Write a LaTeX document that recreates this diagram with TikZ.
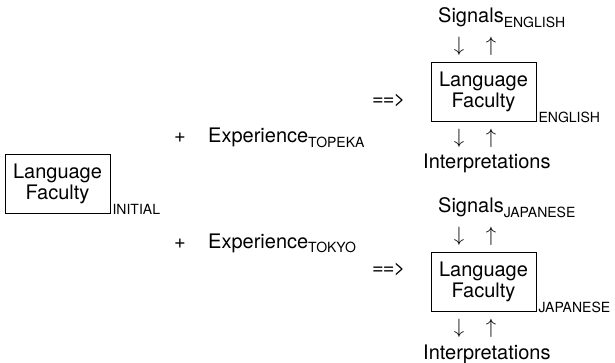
\documentclass[tikz,border=0pt]{standalone}
\usepackage{fontspec}
\setmainfont{TeX Gyre Heros}
\begin{document}
\begin{tikzpicture}[x=1pt,y=-1pt,
  fbox/.style={draw, line width=0.8pt, minimum width=105pt, minimum height=59pt,
    inner sep=0pt, align=center, font=\fontsize{20}{21}\selectfont},
  lbl/.style={inner sep=0pt, anchor=base west, font=\fontsize{20}{24}\selectfont},
  subl/.style={inner sep=0pt, anchor=base west, font=\fontsize{14}{16}\selectfont},
  arr/.style={inner sep=0pt, font=\fontsize{22}{24}\selectfont}]
\useasboundingbox (0,0) rectangle (615,363);
\newcommand{\sbs}[1]{\raisebox{-4.5pt}{\fontsize{14}{16}\selectfont #1}}
% initial
\node[fbox] (init) at (57.5,183.5) {Language\\Faculty};
\node[subl] (initsub) at ([xshift=2pt,yshift=-1pt]init.south east) {INITIAL};
% experiences
\node[lbl] (plus1) at (174,143) {+};
\node[lbl] (exp1) at (208,143) {Experience\sbs{TOPEKA}};
\node[lbl] (plus2) at (174,248) {+};
\node[lbl] (exp2) at (208,248) {Experience\sbs{TOKYO}};
% results
\node[lbl] (to1) at (372,106) {=\kern-1pt=\kern-1pt>};
\node[lbl] (to2) at (372,274) {=\kern-1pt=\kern-1pt>};
% English
\node[lbl] (sig1) at (438,23) {Signals\sbs{ENGLISH}};
\node[arr] (d1) at (459,46) {$\downarrow$};
\node[arr] (u1) at (491,46) {$\uparrow$};
\node[fbox] (eng) at (483.5,91.5) {Language\\Faculty};
\node[subl] (engsub) at ([xshift=2pt,yshift=-1pt]eng.south east) {ENGLISH};
\node[arr] (d2) at (459,138) {$\downarrow$};
\node[arr] (u2) at (491,138) {$\uparrow$};
\node[lbl] (int1) at (423,169) {Interpretations};
% Japanese
\node[lbl] (sig2) at (438,213) {Signals\sbs{JAPANESE}};
\node[arr] (d3) at (459,236) {$\downarrow$};
\node[arr] (u3) at (491,236) {$\uparrow$};
\node[fbox] (jap) at (483.5,281.5) {Language\\Faculty};
\node[subl] (japsub) at ([xshift=2pt,yshift=-1pt]jap.south east) {JAPANESE};
\node[arr] (d4) at (459,328) {$\downarrow$};
\node[arr] (u4) at (491,328) {$\uparrow$};
\node[lbl] (int2) at (423,359) {Interpretations};
\end{tikzpicture}
\end{document}
